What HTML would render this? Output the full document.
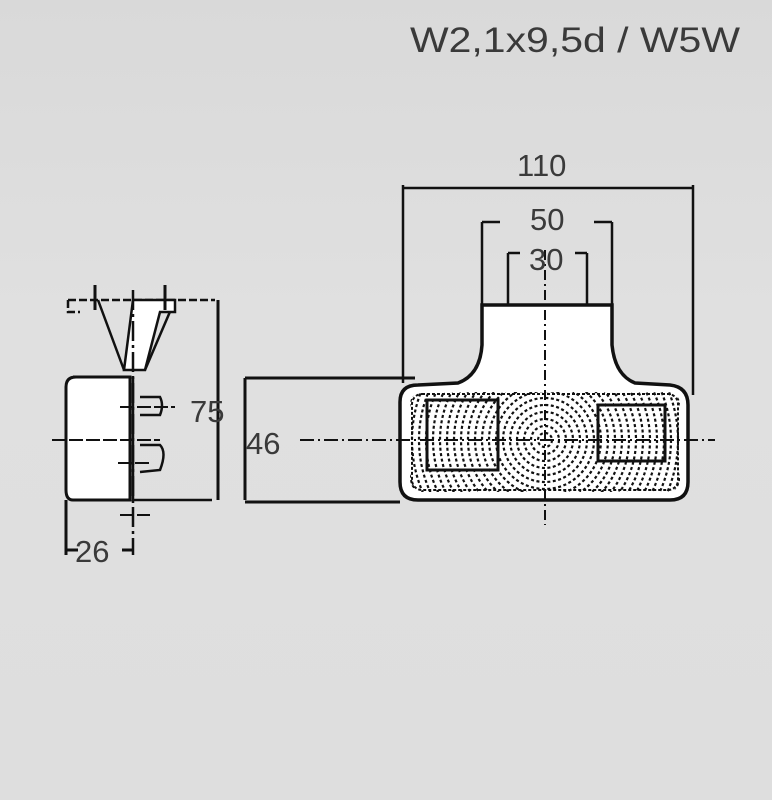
<!DOCTYPE html>
<html><head><style>
html,body{margin:0;padding:0}
body{width:772px;height:800px;background:linear-gradient(180deg,#d9d9d9,#e0e0e0 40%,#dedede);overflow:hidden}
svg{display:block}
text{font-family:"Liberation Sans",sans-serif;fill:#3a3a3a}
</style></head><body>
<svg width="772" height="800" viewBox="0 0 772 800">
<defs>
<clipPath id="lc"><rect x="410" y="392" width="270" height="100" rx="12"/></clipPath>
</defs>
<text x="410" y="52" font-size="35" textLength="330" lengthAdjust="spacingAndGlyphs">W2,1x9,5d / W5W</text>
<g stroke="#111" fill="none" stroke-width="2.5">
<path d="M482 305 L612 305 L612 345 Q615 375 635 383 L670 385 Q688 387 688 405 L688 482 Q688 500 670 500 L418 500 Q400 500 400 482 L400 402 Q400 385 418 385 L458 383 Q480 375 482 345 Z" fill="#fff" stroke-width="3.5"/>
<g clip-path="url(#lc)" stroke-width="2.2" stroke-dasharray="3 2.5">
<circle cx="545" cy="440" r="7"/><circle cx="545" cy="440" r="14"/><circle cx="545" cy="440" r="21"/><circle cx="545" cy="440" r="28"/><circle cx="545" cy="440" r="35"/><circle cx="545" cy="440" r="42"/><circle cx="545" cy="440" r="49"/><circle cx="545" cy="440" r="56"/><circle cx="545" cy="440" r="63"/><circle cx="545" cy="440" r="70"/><circle cx="545" cy="440" r="77"/><circle cx="545" cy="440" r="84"/><circle cx="545" cy="440" r="91"/><circle cx="545" cy="440" r="98"/><circle cx="545" cy="440" r="105"/><circle cx="545" cy="440" r="112"/><circle cx="545" cy="440" r="119"/><circle cx="545" cy="440" r="126"/><circle cx="545" cy="440" r="133"/><circle cx="545" cy="440" r="140"/><circle cx="545" cy="440" r="147"/>
</g>
<rect x="412" y="394" width="266" height="96" rx="10" stroke-width="2" stroke-dasharray="3 2"/>
<rect x="427" y="400" width="71" height="70" stroke-width="3"/>
<rect x="598" y="405" width="67" height="56" stroke-width="3"/>
<path d="M403 185 V383 M693 185 V395 M403 188 H693" stroke-width="2.5"/>
<path d="M482 222 V305 M612 222 V305 M482 222 H500 M594 222 H612" stroke-width="2.5"/>
<path d="M508 253 V305 M587 253 V305 M508 253 H520 M575 253 H587" stroke-width="2.5"/>
<path d="M545 250 V525" stroke-width="2" stroke-dasharray="10 4 2 4"/>
<path d="M300 440 H715" stroke-width="2" stroke-dasharray="14 4 2 4"/>
<path d="M245 378 H415 M245 378 V500 M245 502 H400" stroke-width="3"/>
<path d="M68 300 H215 M68 300 V312 H80" stroke-width="2.5" stroke-dasharray="8 3"/>
<path d="M98 300 L124 370 M175 300 L145 370" stroke-width="2.5"/>
<path d="M133 300 L175 300 L175 312 L160 312 L145 370 L124 370 Z" fill="#fff"/>
<path d="M73 377 H130 V500 H73 Q66 500 66 490 V387 Q66 377 76 377 Z" fill="#fff" stroke-width="3"/>
<path d="M133 377 V500 L212 500 M140 397 H160 Q164 405 160 415 H140 M140 445 H160 Q167 452 160 470 L140 472" fill="none" stroke-width="2.5"/>
<path d="M133 290 V555" stroke-width="2.5" stroke-dasharray="20 4 3 4"/>
<path d="M95 285 V310 M165 285 V310" stroke-width="3"/>
<path d="M120 407 H175 M52 440 H160 M118 463 H150 M120 515 H150" stroke-width="2" stroke-dasharray="14 3"/>
<path d="M218 300 V500 M66 500 V555 M66 550 H78 M122 550 H133" stroke-width="3"/>
</g>
<text x="190" y="422" font-size="31">75</text>
<text x="246" y="454" font-size="31">46</text>
<text x="75" y="562" font-size="31">26</text>
<text x="517" y="176" font-size="31">110</text>
<text x="530" y="230" font-size="31">50</text>
<text x="529" y="270" font-size="31">30</text>
</svg>
</body></html>
